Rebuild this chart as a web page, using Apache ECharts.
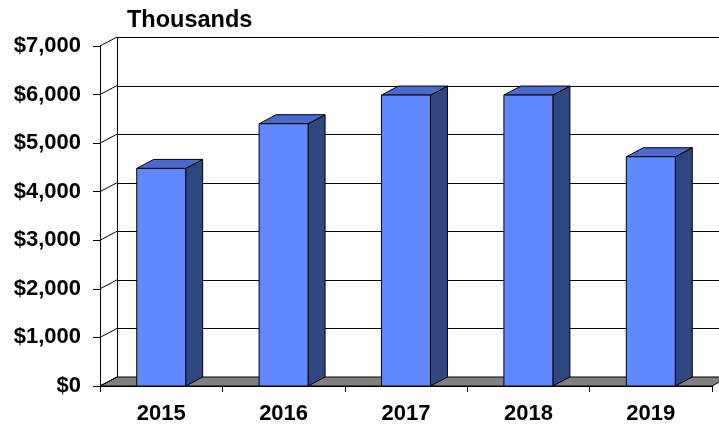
<!DOCTYPE html>
<html>
<head>
<meta charset="utf-8">
<script src="https://cdn.jsdelivr.net/npm/echarts@6/dist/echarts.min.js"></script>
<style>
  html, body { margin: 0; padding: 0; background: #fff; }
  #chart { width: 719px; height: 425px; }
</style>
</head>
<body>
<div id="chart"></div>
<script>
// Yearly totals, in thousands of dollars
const years = ['2015', '2016', '2017', '2018', '2019'];
const totals = [4480, 5400, 5990, 5990, 4720];
const yTicks = [0, 1000, 2000, 3000, 4000, 5000, 6000, 7000];
const unitLabel = 'Thousands';

// Depth offset of the pseudo-3D box (back plane relative to front plane)
const DX = 17, DY = -9;
const FONT = '"Liberation Sans", Arial, sans-serif';

const C_FRONT = '#6189FF';
const C_TOP = '#4A6BCC';
const C_SIDE = '#2F4780';

function fmtMoney(v) {
  return '$' + v.toLocaleString('en-US');
}

const chart = echarts.init(document.getElementById('chart'), null, { renderer: 'canvas' });

// Floor slab, back wall edge and gridlines on the back wall
function renderWalls(params, api) {
  const cs = params.coordSys;
  const x0 = cs.x, x1 = cs.x + cs.width;
  const y0 = api.coord([0, 0])[1];
  const yMax = api.coord([0, yTicks[yTicks.length - 1]])[1];
  const children = [];
  // floor
  children.push({
    type: 'polygon',
    shape: { points: [[x0, y0], [x0 + DX, y0 + DY], [x1 + DX, y0 + DY], [x1, y0]] },
    style: { fill: '#808080', stroke: '#000', lineWidth: 1 }
  });
  // back wall left edge
  const bx = Math.round(x0 + DX) + 0.5;
  children.push({
    type: 'line',
    shape: { x1: bx, y1: yMax + DY, x2: bx, y2: y0 + DY },
    style: { stroke: '#000', lineWidth: 1 }
  });
  yTicks.forEach(function (v) {
    const y = api.coord([0, v])[1];
    // diagonal from the front axis to the back wall
    children.push({
      type: 'line',
      shape: { x1: x0, y1: y, x2: x0 + DX, y2: y + DY },
      style: { stroke: '#000', lineWidth: 1 }
    });
    if (v > 0) {
      const gy = Math.round(y + DY) + 0.5;
      children.push({
        type: 'line',
        shape: { x1: x0 + DX, y1: gy, x2: x1 + DX, y2: gy },
        style: { stroke: '#000', lineWidth: 1 }
      });
    }
  });
  return { type: 'group', children: children };
}

// One box per year: front face, top face and right side face
function renderBar(params, api) {
  const i = api.value(0), v = api.value(1);
  const top = api.coord([i, v]);
  const base = api.coord([i, 0]);
  const band = api.size([1, 0])[0];
  const hw = band * 0.2;
  const xl = top[0] - hw, xr = top[0] + hw;
  const yt = top[1], yb = base[1];
  const stroke = { stroke: '#000', lineWidth: 1, lineJoin: 'miter' };
  return {
    type: 'group',
    children: [
      {
        type: 'polygon',
        shape: { points: [[xr, yt], [xr + DX, yt + DY], [xr + DX, yb + DY], [xr, yb]] },
        style: Object.assign({ fill: C_SIDE }, stroke)
      },
      {
        type: 'polygon',
        shape: { points: [[xl, yt], [xl + DX, yt + DY], [xr + DX, yt + DY], [xr, yt]] },
        style: Object.assign({ fill: C_TOP }, stroke)
      },
      {
        type: 'rect',
        shape: { x: xl, y: yt, width: xr - xl, height: yb - yt },
        style: Object.assign({ fill: C_FRONT }, stroke)
      }
    ]
  };
}

chart.setOption({
  animation: false,
  backgroundColor: '#fff',
  grid: { left: 100, right: 7, top: 46, bottom: 38, containLabel: false },
  graphic: [{
    type: 'text',
    left: 127,
    top: 9,
    style: { text: unitLabel, font: 'bold 23.5px ' + FONT, fill: '#000' }
  }],
  xAxis: {
    type: 'category',
    data: years,
    boundaryGap: true,
    axisLine: { show: true, lineStyle: { color: '#000', width: 1 } },
    axisTick: { show: true, length: 6, lineStyle: { color: '#000' } },
    axisLabel: { margin: 17, color: '#000', fontSize: 22, fontWeight: 'bold', fontFamily: FONT },
    splitLine: { show: false }
  },
  yAxis: {
    type: 'value',
    min: 0,
    max: 7000,
    interval: 1000,
    axisLine: { show: true, lineStyle: { color: '#000', width: 1 } },
    axisTick: { show: true, length: 7, lineStyle: { color: '#000' } },
    axisLabel: {
      margin: 19, color: '#000', fontSize: 22, fontWeight: 'bold', fontFamily: FONT,
      formatter: fmtMoney
    },
    splitLine: { show: false }
  },
  series: [
    {
      type: 'custom',
      z: 1,
      silent: true,
      clip: false,
      renderItem: renderWalls,
      data: [[0, 0]]
    },
    {
      type: 'custom',
      z: 3,
      clip: false,
      renderItem: renderBar,
      encode: { x: 0, y: 1 },
      data: totals.map(function (v, i) { return [i, v]; })
    }
  ]
});
</script>
</body>
</html>
